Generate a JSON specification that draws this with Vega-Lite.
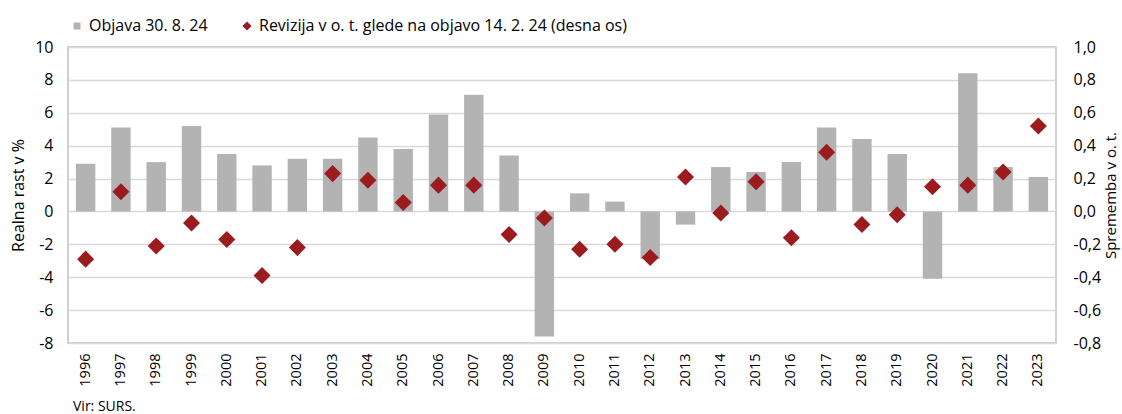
{
  "$schema": "https://vega.github.io/schema/vega-lite/v6.json",
  "width": 988,
  "height": 296,
  "autosize": {"type": "none"},
  "padding": {"left": 68, "top": 47, "right": 66, "bottom": 71},
  "background": "white",
  "config": {
    "view": {"stroke": "#d0d0d0", "strokeWidth": 2},
    "font": "Open Sans",
    "axis": {"labelColor": "#000", "titleColor": "#000", "titleFontWeight": "normal", "labelFontSize": 15, "titleFontSize": 16, "domain": false, "ticks": false, "titleFont": "Open Sans", "labelFont": "Open Sans"},
    "legend": {"labelFont": "Open Sans", "labelColor": "#000", "labelFontSize": 16, "labelLimit": 600, "padding": 0}
  },
  "title": {"text": "Vir: SURS.", "orient": "bottom", "anchor": "start", "frame": "group", "fontSize": 14, "fontWeight": "normal", "font": "Open Sans", "color": "#000", "offset": 14, "dx": 5},
  "data": {
    "values": [
      {"leto": "1996", "objava": 2.9, "revizija": -0.29},
      {"leto": "1997", "objava": 5.1, "revizija": 0.12},
      {"leto": "1998", "objava": 3.0, "revizija": -0.21},
      {"leto": "1999", "objava": 5.2, "revizija": -0.07},
      {"leto": "2000", "objava": 3.5, "revizija": -0.17},
      {"leto": "2001", "objava": 2.8, "revizija": -0.39},
      {"leto": "2002", "objava": 3.2, "revizija": -0.22},
      {"leto": "2003", "objava": 3.2, "revizija": 0.23},
      {"leto": "2004", "objava": 4.5, "revizija": 0.19},
      {"leto": "2005", "objava": 3.8, "revizija": 0.055},
      {"leto": "2006", "objava": 5.9, "revizija": 0.16},
      {"leto": "2007", "objava": 7.1, "revizija": 0.16},
      {"leto": "2008", "objava": 3.4, "revizija": -0.14},
      {"leto": "2009", "objava": -7.6, "revizija": -0.04},
      {"leto": "2010", "objava": 1.1, "revizija": -0.23},
      {"leto": "2011", "objava": 0.6, "revizija": -0.2},
      {"leto": "2012", "objava": -2.9, "revizija": -0.28},
      {"leto": "2013", "objava": -0.8, "revizija": 0.21},
      {"leto": "2014", "objava": 2.7, "revizija": -0.01},
      {"leto": "2015", "objava": 2.4, "revizija": 0.18},
      {"leto": "2016", "objava": 3.0, "revizija": -0.16},
      {"leto": "2017", "objava": 5.1, "revizija": 0.36},
      {"leto": "2018", "objava": 4.4, "revizija": -0.08},
      {"leto": "2019", "objava": 3.5, "revizija": -0.02},
      {"leto": "2020", "objava": -4.1, "revizija": 0.15},
      {"leto": "2021", "objava": 8.4, "revizija": 0.16},
      {"leto": "2022", "objava": 2.7, "revizija": 0.24},
      {"leto": "2023", "objava": 2.1, "revizija": 0.52}
    ]
  },
  "encoding": {
    "x": {
      "field": "leto",
      "type": "ordinal",
      "scale": {"paddingInner": 0.45, "paddingOuter": 0.225},
      "axis": {"title": null, "labelAngle": -90, "labelPadding": 10, "labelFontSize": 14.5}
    }
  },
  "layer": [
    {
      "mark": {"type": "bar", "color": "#b3b3b3"},
      "encoding": {
        "y": {
          "field": "objava",
          "type": "quantitative",
          "scale": {"domain": [-8, 10], "nice": false, "zero": false},
          "axis": {
            "title": "Realna rast v %",
            "values": [-8, -6, -4, -2, 0, 2, 4, 6, 8, 10],
            "grid": true,
            "gridColor": "#d9d9d9",
            "gridWidth": 1.5,
            "labelPadding": 15,
            "labelFontSize": 16,
            "titlePadding": 8,
            "labelExpr": "replace(datum.label, '−', '-')"
          }
        },
        "fill": {
          "datum": "Objava 30. 8. 24",
          "scale": {"range": ["#b3b3b3"]},
          "legend": {"orient": "none", "legendX": 1, "legendY": -29, "title": null, "symbolType": "square", "symbolSize": 49, "symbolStrokeWidth": 0}
        }
      }
    },
    {
      "mark": {"type": "point", "shape": "diamond", "filled": true, "size": 290, "color": "#9b1b1f", "opacity": 1},
      "encoding": {
        "y": {
          "field": "revizija",
          "type": "quantitative",
          "scale": {"domain": [-0.8, 1.0], "nice": false, "zero": false},
          "axis": {
            "orient": "right",
            "title": "Sprememba v o. t.",
            "values": [-0.8, -0.6, -0.4, -0.2, 0, 0.2, 0.4, 0.6, 0.8, 1.0],
            "grid": false,
            "labelPadding": 17,
            "labelFontSize": 16,
            "titlePadding": 3,
            "titleFontSize": 15,
            "titleAngle": 270,
            "titleBaseline": "top",
            "labelExpr": "replace(replace(format(datum.value, '.1f'), '.', ','), '−', '-')"
          }
        },
        "shape": {
          "datum": "Revizija v o. t. glede na objavo 14. 2. 24 (desna os)",
          "scale": {"range": ["diamond"]},
          "legend": {"orient": "none", "legendX": 171, "legendY": -29, "title": null, "symbolSize": 81, "symbolFillColor": "#9b1b1f", "symbolStrokeColor": "#9b1b1f", "symbolStrokeWidth": 0}
        }
      }
    }
  ],
  "resolve": {"scale": {"y": "independent"}}
}
